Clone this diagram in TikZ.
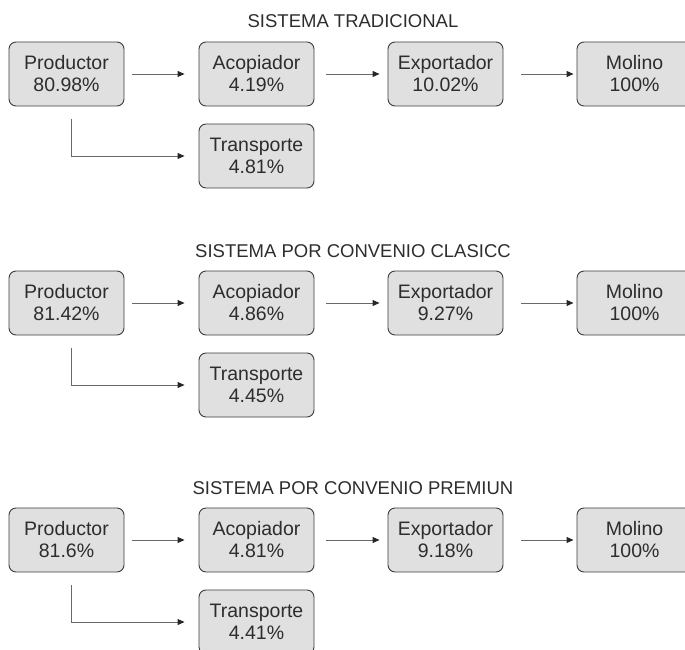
\documentclass[tikz,border=0pt]{standalone}
\usepackage{fontspec}
\setmainfont{Liberation Sans}
\usetikzlibrary{arrows.meta}
\definecolor{cajagris}{RGB}{224,224,224}
\definecolor{bordegris}{RGB}{60,60,60}
\definecolor{textogris}{RGB}{45,45,45}
\definecolor{lineagris}{RGB}{105,105,105}

\begin{document}
\begin{tikzpicture}[x=1pt,y=-1pt,
  every node/.style={text=textogris,font=\fontsize{18.5}{22}\selectfont},
  caja/.style={draw=bordegris,fill=cajagris,line width=0.9pt,rounded corners=7pt,
    minimum width=115pt,minimum height=64pt,inner sep=0pt,align=center,
    font=\fontsize{19.5}{22}\selectfont},
  titulo/.style={anchor=base},
  flecha/.style={draw=lineagris,line width=0.9pt,-{Triangle[length=7pt,width=6pt,color=black!85]}}]

  \useasboundingbox (0,0) rectangle (685,650);
  \clip (0,0) rectangle (685,650);

  \node[titulo] (tit1) at (353,28) {SISTEMA TRADICIONAL};
  \node[caja] (p1) at (66.5,74)  {Productor\\80.98\%};
  \node[caja] (a1) at (256.5,74) {Acopiador\\4.19\%};
  \node[caja] (e1) at (445.5,74) {Exportador\\10.02\%};
  \node[caja] (m1) at (634.5,74) {Molino\\100\%};
  \node[caja] (t1) at (256.5,156) {Transporte\\4.81\%};

  \node[titulo] (tit2) at (353,257) {SISTEMA POR CONVENIO CLASICC};
  \node[caja] (p2) at (66.5,303)  {Productor\\81.42\%};
  \node[caja] (a2) at (256.5,303) {Acopiador\\4.86\%};
  \node[caja] (e2) at (445.5,303) {Exportador\\9.27\%};
  \node[caja] (m2) at (634.5,303) {Molino\\100\%};
  \node[caja] (t2) at (256.5,385) {Transporte\\4.45\%};

  \node[titulo] (tit3) at (353,494) {SISTEMA POR CONVENIO PREMIUN};
  \node[caja] (p3) at (66.5,540)  {Productor\\81.6\%};
  \node[caja] (a3) at (256.5,540) {Acopiador\\4.81\%};
  \node[caja] (e3) at (445.5,540) {Exportador\\9.18\%};
  \node[caja] (m3) at (634.5,540) {Molino\\100\%};
  \node[caja] (t3) at (256.5,622) {Transporte\\4.41\%};

  \foreach \n in {1,2,3} {
    \foreach \from/\to/\sa/\sb in {p/a/8/14,a/e/12/8,e/m/18/3}
      \draw[flecha,shorten <=\sa pt,shorten >=\sb pt] (\from\n) -- (\to\n);
    \draw[flecha] ([xshift=4.5pt,yshift=-13pt]p\n.south) |- ([xshift=-14pt]t\n.west);
  }
\end{tikzpicture}
\end{document}
